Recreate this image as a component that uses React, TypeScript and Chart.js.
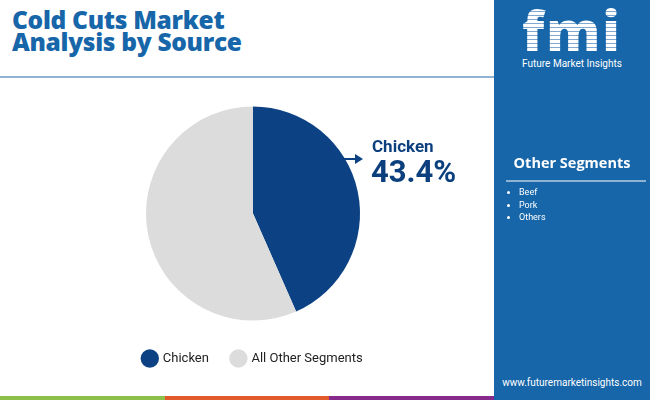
import { useEffect, useRef } from 'react';
import Chart from 'chart.js/auto';

const segments = ['Chicken', 'All Other Segments'];
const shares = [43.4, 56.6];
const segmentColors = ['#0c4283', '#dcdcdc'];
const otherSegments = ['Beef', 'Pork', 'Others'];

const BLUE = '#1666a9';

function SourcePie() {
  const chartRef = useRef<HTMLCanvasElement>(null);
  const chartInstance = useRef<Chart | null>(null);

  useEffect(() => {
    if (!chartRef.current) return;
    if (chartInstance.current) chartInstance.current.destroy();
    const ctx = chartRef.current.getContext('2d');
    if (!ctx) return;

    chartInstance.current = new Chart(ctx, {
      type: 'pie',
      data: {
        labels: segments,
        datasets: [
          {
            data: shares,
            backgroundColor: segmentColors,
            borderWidth: 0,
            radius: 107,
          },
        ],
      },
      options: {
        responsive: true,
        maintainAspectRatio: false,
        animation: false,
        layout: { padding: { top: 4, bottom: 0 } },
        plugins: {
          legend: {
            position: 'bottom',
            labels: {
              usePointStyle: true,
              pointStyle: 'circle',
              boxWidth: 18,
              boxHeight: 18,
              padding: 23,
              color: '#222',
              font: { family: 'Roboto', size: 13 },
            },
          },
          tooltip: { enabled: false },
        },
      },
    });

    return () => {
      if (chartInstance.current) {
        chartInstance.current.destroy();
        chartInstance.current = null;
      }
    };
  }, []);

  return (
    <div style={{ position: 'absolute', left: 103, top: 94, width: 300, height: 281 }}>
      <canvas ref={chartRef} />
    </div>
  );
}

export default function App() {
  return (
    <div
      style={{
        position: 'fixed',
        left: 0,
        top: 0,
        width: 650,
        height: 400,
        background: '#fff',
        overflow: 'hidden',
        fontFamily: 'Roboto, sans-serif',
      }}
    >
      {/* title */}
      <div
        style={{
          position: 'absolute',
          left: 12,
          top: 9,
          color: BLUE,
          fontFamily: '"Open Sans", sans-serif',
          fontWeight: 800,
          fontSize: 24.5,
          lineHeight: '22px',
          letterSpacing: -0.3,
        }}
      >
        Cold Cuts Market
        <br />
        Analysis by Source
      </div>
      <div style={{ position: 'absolute', left: 0, top: 76, width: 494, height: 2, background: '#8fb3d3' }} />

      <SourcePie />

      {/* callout */}
      <div style={{ position: 'absolute', left: 343, top: 158, width: 14, height: 2, background: '#0c4283' }} />
      <div
        style={{
          position: 'absolute',
          left: 355,
          top: 154,
          width: 0,
          height: 0,
          borderTop: '5px solid transparent',
          borderBottom: '5px solid transparent',
          borderLeft: '8px solid #0c4283',
        }}
      />
      <div
        style={{
          position: 'absolute',
          left: 372,
          top: 136,
          color: '#0c3f7e',
          fontWeight: 700,
          fontSize: 17,
          lineHeight: '20px',
        }}
      >
        Chicken
      </div>
      <div
        style={{
          position: 'absolute',
          left: 371,
          top: 154,
          color: '#0c3f7e',
          fontWeight: 700,
          fontSize: 31,
          lineHeight: '36px',
        }}
      >
        43.4%
      </div>

      {/* bottom colour bar */}
      <div style={{ position: 'absolute', left: 0, top: 396, width: 165, height: 4, background: '#8cc04a' }} />
      <div style={{ position: 'absolute', left: 165, top: 396, width: 164, height: 4, background: '#e2592b' }} />
      <div style={{ position: 'absolute', left: 329, top: 396, width: 165, height: 4, background: '#862a8c' }} />

      {/* right panel */}
      <div style={{ position: 'absolute', left: 494, top: 0, width: 156, height: 400, background: BLUE, color: '#fff' }}>
        <div
          style={{
            position: 'absolute',
            left: 20,
            top: 0,
            width: 116,
            textAlign: 'center',
            fontFamily: '"Open Sans", sans-serif',
            fontWeight: 800,
            fontSize: 54,
            lineHeight: '60px',
            letterSpacing: 2,
            color: 'transparent',
            backgroundImage: 'repeating-linear-gradient(#ffffff 0 3px, #7fa9d3 3px 4px)',
            WebkitBackgroundClip: 'text',
            backgroundClip: 'text',
          }}
        >
          fmi
        </div>
        <div
          style={{
            position: 'absolute',
            left: 0,
            top: 58,
            width: 156,
            textAlign: 'center',
            fontSize: 10,
            lineHeight: '12px',
          }}
        >
          Future Market Insights
        </div>
        <div
          style={{
            position: 'absolute',
            left: 0,
            top: 153,
            width: 156,
            textAlign: 'center',
            fontFamily: '"Open Sans", sans-serif',
            fontWeight: 700,
            fontSize: 14.5,
            lineHeight: '20px',
          }}
        >
          Other Segments
        </div>
        <div style={{ position: 'absolute', left: 12, top: 180, width: 140, height: 2, background: '#8fb3d3' }} />
        <ul
          style={{
            position: 'absolute',
            left: 0,
            top: 186,
            margin: 0,
            paddingLeft: 25,
            fontSize: 9,
            lineHeight: '12.5px',
          }}
        >
          {otherSegments.map((s) => (
            <li key={s}>{s}</li>
          ))}
        </ul>
        <div
          style={{
            position: 'absolute',
            left: 0,
            top: 376,
            width: 156,
            textAlign: 'center',
            fontSize: 10,
            lineHeight: '14px',
          }}
        >
          www.futuremarketinsights.com
        </div>
      </div>
    </div>
  );
}
